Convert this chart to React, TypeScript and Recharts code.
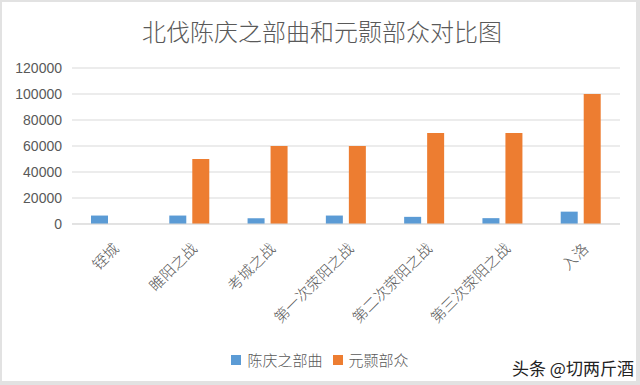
import { BarChart, Bar, XAxis, YAxis, CartesianGrid, Legend } from "recharts"

const categories = ["铚城", "睢阳之战", "考城之战", "第一次荥阳之战", "第二次荥阳之战", "第三次荥阳之战", "入洛"]
const chenQingzhi = [6500, 6500, 4500, 6500, 5500, 4500, 9500]
const yuanHao = [0, 50000, 60000, 60000, 70000, 70000, 100000]
const yTicks = [0, 20000, 40000, 60000, 80000, 100000, 120000]

const seriesNames = ["陈庆之部曲", "元颢部众"]
const colors = ["#5b9bd5", "#ed7d31"]

const data = categories.map((name, i) => ({ name, a: chenQingzhi[i], b: yuanHao[i] }))

const cjk = '"Noto Sans CJK SC", "Noto Sans", sans-serif'

function XTick({ x, y, payload }: any) {
  const ax = x + 5
  const ay = y + 14
  return (
    <text
      x={ax}
      y={ay}
      textAnchor="end"
      dy="0.35em"
      fill="#595959"
      fontSize={15}
      fontWeight={300}
      fontFamily={cjk}
      transform={`rotate(-45, ${ax}, ${ay})`}
    >
      {payload.value}
    </text>
  )
}

function LegendBox() {
  return (
    <div style={{ display: "flex", justifyContent: "center", gap: 10, fontFamily: cjk, fontSize: 15, fontWeight: 300, color: "#595959" }}>
      {seriesNames.map((n, i) => (
        <div key={n} style={{ display: "flex", alignItems: "center" }}>
          <span style={{ width: 10, height: 10, background: colors[i], display: "inline-block", marginRight: 6 }} />
          <span>{n}</span>
        </div>
      ))}
    </div>
  )
}

export default function App() {
  return (
    <div style={{ position: "absolute", left: 0, top: 0, width: 640, height: 385, background: "#e2e2e2" }}>
      <div style={{ position: "absolute", left: 2, top: 2, width: 634, height: 379, background: "#fff" }} />
      <div
        style={{
          position: "absolute",
          left: 0,
          top: 13,
          width: 644,
          textAlign: "center",
          fontFamily: cjk,
          fontSize: 24,
          fontWeight: 300,
          color: "#595959",
        }}
      >
        北伐陈庆之部曲和元颢部众对比图
      </div>
      <div style={{ position: "absolute", left: 0, top: 0 }}>
        <BarChart width={640} height={385} data={data} margin={{ top: 68, right: 20, bottom: 0, left: 0 }} barGap={6} barSize={17}>
          <CartesianGrid vertical={false} stroke="#d9d9d9" />
          <XAxis dataKey="name" height={161} interval={0} tick={<XTick />} tickLine={false} axisLine={{ stroke: "#d9d9d9" }} />
          <YAxis
            width={72}
            domain={[0, 120000]}
            ticks={yTicks}
            axisLine={false}
            tickLine={false}
            tickMargin={4}
            tick={{ fill: "#595959", fontSize: 14, fontFamily: '"Liberation Sans", sans-serif' }}
          />
          <Legend
            layout="horizontal"
            verticalAlign="middle"
            align="center"
            content={<LegendBox />}
            wrapperStyle={{ position: "absolute", top: 349, left: 0, width: 640 }}
          />
          <Bar dataKey="a" name={seriesNames[0]} fill={colors[0]} isAnimationActive={false} />
          <Bar dataKey="b" name={seriesNames[1]} fill={colors[1]} isAnimationActive={false} />
        </BarChart>
      </div>
      <div style={{ position: "absolute", left: 512, top: 355, fontFamily: cjk, fontSize: 17, color: "#222" }}>
        头条 @切两斤酒
      </div>
    </div>
  )
}
